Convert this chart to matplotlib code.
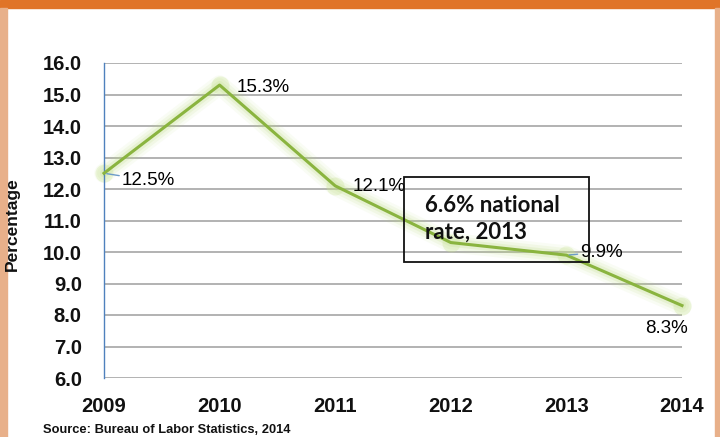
import matplotlib
matplotlib.use("Agg")
import matplotlib.pyplot as plt
from matplotlib.patches import Rectangle

years = [2009, 2010, 2011, 2012, 2013, 2014]
rates = [12.5, 15.3, 12.1, 10.3, 9.9, 8.3]
shown = [True, True, True, False, True, True]
yticks = [6.0, 7.0, 8.0, 9.0, 10.0, 11.0, 12.0, 13.0, 14.0, 15.0, 16.0]
# label offsets in pixels (dx, dy) and alignment
offsets = [(18, -7, 'left'), (17, -2, 'left'), (17, -1, 'left'),
           (0, 0, 'left'), (14, 3, 'left'), (-16, -23, 'center')]
leaders = [True, False, False, False, True, False]

fig = plt.figure(figsize=(7.2, 4.37), dpi=100)
fig.patch.set_facecolor('white')

# frame decorations
fig.add_artist(Rectangle((0, 1 - 8 / 437), 1, 8 / 437, transform=fig.transFigure,
                         color='#E07428', zorder=0))
fig.add_artist(Rectangle((0, 0), 7 / 720, 1 - 8 / 437, transform=fig.transFigure,
                         color='#E8B08A', zorder=0))
fig.add_artist(Rectangle((715 / 720, 0), 5 / 720, 1 - 8 / 437, transform=fig.transFigure,
                         color='#E8B08A', zorder=0))

ax = fig.add_axes([104 / 720, 59 / 437, 578 / 720, 315 / 437])
ax.set_xlim(years[0], years[-1])
ax.set_ylim(6, 16)
ax.set_yticks(yticks)
ax.set_yticklabels(['%.1f' % v for v in yticks], fontfamily='Liberation Sans',
                   fontweight='bold', fontsize=14.5, color='#111111')
ax.set_xticks(years)
ax.set_xticklabels([str(y) for y in years], fontfamily='Liberation Sans',
                   fontweight='bold', fontsize=14.5, color='#111111')
ax.tick_params(axis='y', length=0, pad=16)
ax.tick_params(axis='x', length=0, pad=14)
ax.grid(axis='y', color='#A6A6A6', linewidth=1.2)
ax.set_axisbelow(True)
for s in ['top', 'right', 'bottom']:
    ax.spines[s].set_visible(False)
ax.spines['left'].set_color('#4F81BD')
ax.spines['left'].set_linewidth(1.0)

# glow
for lw, a in [(14, 0.08), (10, 0.12), (6, 0.18)]:
    ax.plot(years, rates, color='#B8D97A', linewidth=lw, alpha=a,
            solid_capstyle='round', solid_joinstyle='round', clip_on=False)
ax.plot(years, rates, 'o', color='#C8E394', markersize=13, alpha=0.3,
        markeredgewidth=0, clip_on=False)
ax.plot(years, rates, color='#8AB43F', linewidth=2.2, clip_on=False, zorder=3)

for x, v, s, (dx, dy, ha), ld in zip(years, rates, shown, offsets, leaders):
    if not s:
        continue
    ax.annotate('%.1f%%' % v, (x, v), xytext=(dx, dy), textcoords='offset pixels',
                ha=ha, va='center', fontsize=13.5, fontfamily='Liberation Sans',
                color='#000000', zorder=5,
                arrowprops=dict(arrowstyle='-', color='#6C9BC8', lw=1,
                                shrinkA=0, shrinkB=2) if ld else None)

ax.set_ylabel('Percentage', fontfamily='Liberation Sans', fontweight='bold',
              fontsize=12.5, color='#111111')
ax.yaxis.set_label_coords(-84 / 578, 0.49)

# national rate box
fig.add_artist(Rectangle((404 / 720, 1 - 262 / 437), 185 / 720, 85 / 437,
                         transform=fig.transFigure, fill=False,
                         edgecolor='#111111', linewidth=1.3, zorder=6))
fig.text(425 / 720, 1 - 219 / 437, '6.6% national\nrate, 2013', fontfamily='Lato',
         fontweight='bold', fontsize=16, color='#111111', va='center', ha='left',
         linespacing=1.35)

fig.text(43 / 720, 1 - 430 / 437, 'Source: Bureau of Labor Statistics, 2014',
         fontfamily='Liberation Sans', fontweight='bold', fontsize=9.3,
         color='#111111', va='center', ha='left')

fig.savefig('out.png', dpi=100)
